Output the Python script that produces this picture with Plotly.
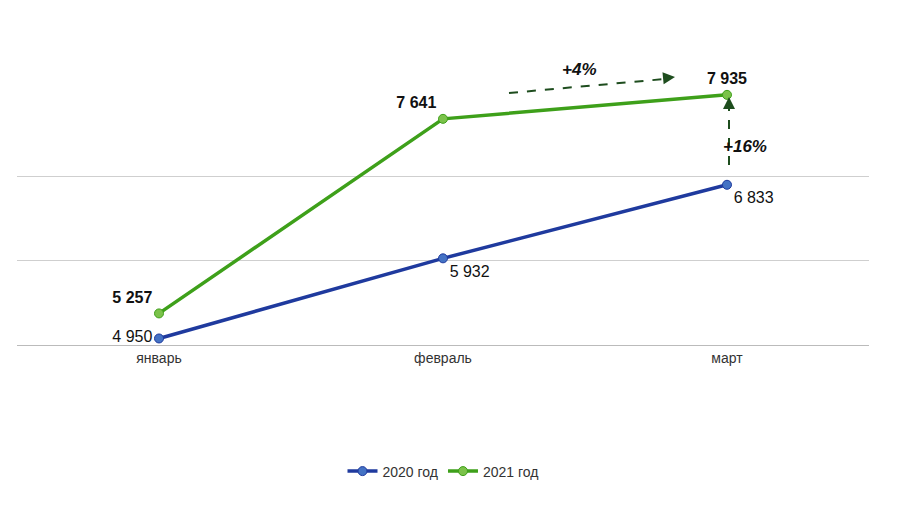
import plotly.graph_objects as go

months = ["январь", "февраль", "март"]
v2020 = [4950, 5932, 6833]
v2021 = [5257, 7641, 7935]
t2020 = ["4 950", "5 932", "6 833"]
t2021 = ["<b>5 257</b>", "<b>7 641</b>", "<b>7 935</b>"]

fig = go.Figure()
fig.add_trace(go.Scatter(x=months, y=v2020, name="2020 год", mode="lines+markers+text",
    line=dict(color="#1f3a9e", width=3.5), marker=dict(size=9, color="#4472c4", line=dict(color="#1f3a9e", width=1)),
    text=t2020, textposition=["middle left", "bottom right", "bottom right"],
    textfont=dict(size=16, color="#111"), cliponaxis=False))
fig.add_trace(go.Scatter(x=months, y=v2021, name="2021 год", mode="lines+markers+text",
    line=dict(color="#3ea01a", width=3.5), marker=dict(size=9, color="#7bc24a", line=dict(color="#3ea01a", width=1)),
    text=t2021, textposition=["top left", "top left", "top center"],
    textfont=dict(size=16, color="#111"), cliponaxis=False))

def px(x): return (x - 18) / 852
def py(y): return (345 - y) / 253
dg = "#1e4d1e"
fig.add_shape(type="line", xref="paper", yref="paper", x0=px(510), y0=py(93), x1=px(666), y1=py(79),
              line=dict(color=dg, width=2, dash="dash"))
fig.add_shape(type="line", xref="paper", yref="paper", x0=px(730), y0=py(165), x1=px(730), y1=py(106),
              line=dict(color=dg, width=2, dash="dash"))
fig.add_annotation(xref="paper", yref="paper", x=px(676), y=py(77), ax=-10, ay=1, text="",
                   showarrow=True, arrowhead=2, arrowsize=1.2, arrowwidth=2, arrowcolor=dg)
fig.add_annotation(xref="paper", yref="paper", x=px(730), y=py(97), ax=0, ay=10, text="",
                   showarrow=True, arrowhead=2, arrowsize=1.2, arrowwidth=2, arrowcolor=dg)
fig.add_annotation(xref="paper", yref="paper", x=px(770), y=py(135), text="<b><i>+4%</i></b>".replace("+4%", "+16%"),
                   showarrow=False, font=dict(size=17, color="#111"))
fig.add_annotation(xref="paper", yref="paper", x=px(600), y=py(58), text="<b><i>+4%</i></b>",
                   showarrow=False, font=dict(size=17, color="#111"))

fig.update_layout(width=918, height=507, margin=dict(l=9, r=57, t=84, b=170),
    plot_bgcolor="white", paper_bgcolor="white", font=dict(family="Liberation Sans", color="#333"),
    legend=dict(orientation="h", x=0.5, xanchor="center", y=-0.5, yanchor="middle", font=dict(size=14)),
    xaxis=dict(range=[-0.5, 2.5], showgrid=False, showline=True, linecolor="#bbb",
               ticks="", tickfont=dict(size=14, color="#333")),
    yaxis=dict(range=[4870, 7970], tickvals=[4870, 5900, 6930, 7960], showticklabels=False,
               gridcolor="#cfcfcf", zeroline=False))
fig.write_html("out.html")
